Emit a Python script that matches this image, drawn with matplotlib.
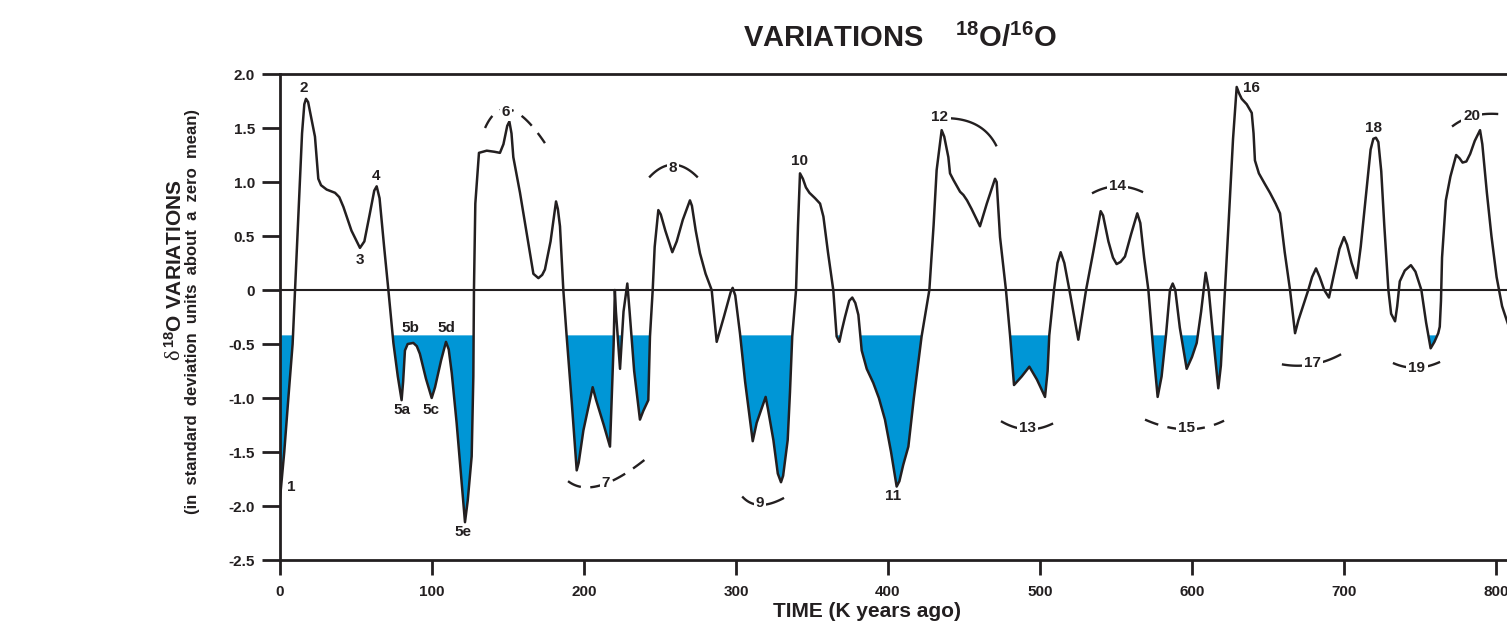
import numpy as np
import matplotlib
matplotlib.use("Agg")
import matplotlib.pyplot as plt

plt.rcParams['font.family'] = ['Liberation Sans', 'DejaVu Sans']
plt.rcParams['font.weight'] = 'bold'
plt.rcParams['mathtext.fontset'] = 'custom'
plt.rcParams['mathtext.rm'] = 'Liberation Sans:bold'
plt.rcParams['mathtext.it'] = 'Liberation Sans:bold'
plt.rcParams['mathtext.bf'] = 'Liberation Sans:bold'
plt.rcParams['mathtext.default'] = 'rm'

# ---------------- data ----------------
age = [0, 2.8, 5.5, 8.3, 9.9, 12.5, 14.5, 16.0, 17.1, 18.5, 20.5, 23, 24.5, 25.2, 27,
       30.7, 36.2, 39, 41.7, 47, 52.6, 55.5, 59, 62, 63.6, 65.5, 68.5, 71.3, 74.6,
       77.5, 80, 81.0, 82.2, 84, 87.7, 90, 92, 96, 99.8, 102, 106, 109.2, 111, 113,
       116.2, 119, 121.7, 123.5, 126.1, 127.2, 127.6, 128.5, 130.9, 136, 141, 144.7,
       147, 149.5, 150.9, 152.3, 153.5, 157.9, 162, 166.7, 170, 172.5, 174.3, 178,
       181.6, 182.8, 184.2, 186.4, 188.6, 192, 195.2, 196.5, 199.6, 205.7, 208, 213,
       217.1, 219.5, 220.3, 221, 223.7, 226, 228.5, 230, 233, 236.8, 239, 242.3,
       243.4, 245.2, 246.5, 248.9, 250.5, 253.5, 258.1, 261, 265, 269.7, 271, 273.5,
       276.3, 280, 284, 287.3, 292, 296.5, 297.8, 299.5, 302.6, 306, 311, 313.6,
       319.5, 321, 324.6, 327.5, 329.6, 331, 334, 335.5, 337, 339.5, 340.8, 342.1,
       344, 346, 348.3, 352, 355.3, 357.5, 360.5, 364, 366.2, 368, 369.5, 371.7,
       374.5, 376.5, 378.5, 380.5, 382.7, 386, 390.3, 394, 398, 402, 405.7, 407.5,
       410, 413.4, 417, 422.1, 427.2, 430, 432, 435.3, 437, 439.7, 440.8, 443,
       447.4, 449.6, 452, 455, 460.5, 465, 470.4, 471.5, 473.7, 477.6, 480.3, 482.9,
       488, 493, 498, 503.3, 505, 506.1, 509.2, 511.5, 513.6, 516, 520, 525.2,
       527.5, 530.3, 535, 539.9, 541.5, 545, 548, 550.4, 553, 555.9, 560, 564, 566,
       568.5, 571.3, 574.5, 577.4, 580, 583, 585.5, 587.3, 589, 592, 596.5, 600,
       603.1, 606, 609, 611, 614, 617.3, 619, 621.7, 624, 627, 629.4, 631, 632.7,
       636, 639.3, 640.5, 641.4, 644, 648, 651.3, 655, 657.9, 661, 664.5, 667.8,
       670, 673, 676.5, 679, 681.6, 684, 687, 690.1, 693, 697, 700, 702, 705, 708.3,
       711, 715, 717.5, 719.3, 721, 722.6, 724.5, 726.5, 729.2, 731, 733.6, 735,
       736.7, 740, 744, 747, 750.9, 754, 757, 759.5, 762, 763, 763.8, 764.5, 767,
       770, 773.8, 776, 778, 780.5, 783, 786, 789.5, 791, 794, 797, 800.4, 804, 808]
d18o = [-1.93, -1.50, -1.0, -0.50, 0.0, 0.8, 1.45, 1.72, 1.77, 1.74, 1.60, 1.42, 1.15,
        1.03, 0.97, 0.93, 0.90, 0.86, 0.77, 0.55, 0.39, 0.45, 0.70, 0.92, 0.96, 0.85,
        0.40, 0.0, -0.49, -0.80, -1.02, -0.85, -0.56, -0.50, -0.49, -0.52, -0.59,
        -0.82, -1.0, -0.90, -0.65, -0.48, -0.55, -0.77, -1.23, -1.70, -2.15, -1.95,
        -1.54, -0.8, 0.0, 0.8, 1.27, 1.29, 1.28, 1.27, 1.35, 1.52, 1.56, 1.45, 1.23,
        0.90, 0.55, 0.15, 0.11, 0.14, 0.19, 0.45, 0.82, 0.75, 0.59, 0.0, -0.43,
        -1.05, -1.67, -1.60, -1.30, -0.90, -1.02, -1.25, -1.45, -0.5, 0.0, -0.2,
        -0.73, -0.2, 0.06, -0.2, -0.75, -1.2, -1.12, -1.02, -0.43, 0.0, 0.4, 0.74,
        0.70, 0.55, 0.35, 0.45, 0.65, 0.83, 0.78, 0.55, 0.34, 0.15, 0.0, -0.48,
        -0.25, -0.02, 0.02, -0.05, -0.40, -0.85, -1.40, -1.23, -0.99, -1.10, -1.39,
        -1.70, -1.78, -1.72, -1.39, -0.95, -0.43, 0.0, 0.6, 1.08, 1.03, 0.95, 0.90,
        0.85, 0.80, 0.68, 0.35, 0.0, -0.43, -0.48, -0.38, -0.25, -0.10, -0.07,
        -0.12, -0.23, -0.56, -0.73, -0.86, -1.0, -1.2, -1.50, -1.82, -1.77, -1.62,
        -1.45, -1.0, -0.43, 0.0, 0.6, 1.11, 1.48, 1.42, 1.23, 1.08, 1.02, 0.91,
        0.88, 0.83, 0.75, 0.59, 0.80, 1.03, 1.0, 0.49, 0.0, -0.42, -0.88, -0.80,
        -0.71, -0.83, -0.99, -0.75, -0.42, 0.0, 0.25, 0.35, 0.25, -0.05, -0.46,
        -0.25, 0.0, 0.35, 0.73, 0.69, 0.45, 0.30, 0.24, 0.26, 0.31, 0.52, 0.71,
        0.62, 0.30, 0.0, -0.55, -0.99, -0.80, -0.40, 0.0, 0.06, 0.0, -0.35, -0.73,
        -0.62, -0.49, -0.20, 0.16, 0.0, -0.45, -0.91, -0.70, 0.0, 0.6, 1.4, 1.88,
        1.82, 1.77, 1.72, 1.64, 1.45, 1.20, 1.08, 0.98, 0.90, 0.80, 0.71, 0.35, 0.0,
        -0.40, -0.28, -0.15, 0.0, 0.12, 0.20, 0.12, 0.0, -0.07, 0.12, 0.38, 0.49,
        0.42, 0.25, 0.11, 0.40, 0.95, 1.30, 1.40, 1.41, 1.37, 1.10, 0.60, 0.0,
        -0.22, -0.29, -0.15, 0.08, 0.18, 0.23, 0.17, 0.0, -0.30, -0.54, -0.48,
        -0.40, -0.34, -0.1, 0.3, 0.83, 1.05, 1.25, 1.22, 1.18, 1.19, 1.26, 1.38,
        1.48, 1.35, 0.90, 0.50, 0.12, -0.15, -0.32]
glacial_threshold = -0.42

x_ticks = [0, 100, 200, 300, 400, 500, 600, 700, 800]
y_ticks = [2.0, 1.5, 1.0, 0.5, 0.0, -0.5, -1.0, -1.5, -2.0, -2.5]
y_tick_labels = ['2.0', '1.5', '1.0', '0.5', '0', '-0.5', '-1.0', '-1.5', '-2.0', '-2.5']

# stage labels: (text, age, value)
stage_labels = [('1', 7.2, -1.82), ('2', 15.8, 1.87), ('3', 52.6, 0.28), ('4', 63.2, 1.06),
                ('5a', 80.1, -1.11), ('5b', 85.5, -0.35), ('5c', 99.1, -1.11),
                ('5d', 109.2, -0.35), ('5e', 120.4, -2.24), ('10', 341.6, 1.19),
                ('11', 403.5, -1.91), ('16', 639.3, 1.87), ('18', 719.3, 1.50)]
# arc-bracketed labels: (text, label position, arc left, arc middle, arc right, dashed)
arc_labels = [
    ('6', (148.7, 1.65), (134.9, 1.50), (151.3, 1.67), (174.3, 1.36), True),
    ('7', (214.5, -1.79), (189.5, -1.77), (210.5, -1.81), (240.1, -1.57), True),
    ('8', (258.6, 1.13), (243.4, 1.05), (258.6, 1.16), (274.3, 1.05), False),
    ('9', (315.8, -1.97), (304.6, -1.92), (315.8, -1.99), (330.9, -1.93), False),
    ('12', (434.2, 1.60), (440.8, 1.59), (459.2, 1.52), (471.1, 1.34), False),
    ('13', (491.7, -1.28), (475.0, -1.22), (491.4, -1.29), (507.9, -1.24), False),
    ('14', (550.8, 0.96), (534.9, 0.90), (550.7, 0.96), (567.1, 0.91), False),
    ('15', (596.3, -1.28), (569.1, -1.20), (596.1, -1.29), (621.1, -1.21), True),
    ('17', (679.2, -0.68), (659.9, -0.69), (678.9, -0.69), (697.4, -0.60), False),
    ('19', (748.0, -0.72), (732.9, -0.68), (747.4, -0.72), (762.5, -0.67), False),
    ('20', (784.0, 1.61), (771.7, 1.52), (784.9, 1.61), (800.7, 1.63), False),
]

# ---------------- figure ----------------
W, H = 1507, 623
fig = plt.figure(figsize=(W / 100, H / 100), dpi=100)
ax = fig.add_axes([280 / W, 63 / H, 1261.6 / W, 486 / H])
ax.set_xlim(0, 830)
ax.set_ylim(-2.5, 2.0)

ink = '#231f20'
blue = '#0096d6'

a = np.array(age)
v = np.array(d18o)
ax.fill_between(a, v, glacial_threshold, where=v < glacial_threshold,
                interpolate=True, color=blue, linewidth=0, zorder=2)
ax.axhline(0, color=ink, lw=1.5, zorder=3)
ax.plot(a, v, color=ink, lw=1.8, zorder=4, solid_joinstyle='round')

for s in ['left', 'bottom', 'top']:
    ax.spines[s].set_linewidth(2.0)
    ax.spines[s].set_color(ink)
ax.spines['right'].set_visible(False)

ax.set_xticks(x_ticks)
ax.set_xticklabels([str(t) for t in x_ticks])
ax.set_yticks(y_ticks)
ax.set_yticklabels(y_tick_labels)
ax.tick_params(axis='y', direction='out', length=13, width=2.0, color=ink,
               labelsize=11, pad=5, labelcolor=ink)
ax.tick_params(axis='x', direction='out', length=11, width=2.0, color=ink,
               labelsize=11, pad=7, labelcolor=ink)
for lab in ax.get_xticklabels() + ax.get_yticklabels():
    lab.set_fontweight('bold')

for txt, x, y in stage_labels:
    ax.text(x, y, txt, fontsize=11, fontweight='bold', color=ink,
            ha='center', va='center', zorder=6)

t = np.linspace(0, 1, 60)
for txt, (lx, ly), L, M, R, dashed in arc_labels:
    L, M, R = np.array(L), np.array(M), np.array(R)
    C = 2 * M - (L + R) / 2
    pts = ((1 - t)[:, None] ** 2) * L + (2 * (1 - t) * t)[:, None] * C + (t[:, None] ** 2) * R
    ls = (0, (6, 4)) if dashed else '-'
    ax.plot(pts[:, 0], pts[:, 1], color=ink, lw=1.7, ls=ls, zorder=5)
    ax.text(lx, ly, txt, fontsize=11, fontweight='bold', color=ink,
            ha='center', va='center', zorder=6,
            bbox=dict(facecolor='white', edgecolor='none', pad=1.5))

# title
fig.text(900 / W, 1 - 47 / H, r'VARIATIONS    $^{18}$O/$^{16}$O', fontsize=21,
         fontweight='bold', color=ink, ha='center', va='baseline')
# x label (near the bottom edge, as in the original)
fig.text(867 / W, 1 - 617 / H, 'TIME (K years ago)', fontsize=15,
         fontweight='bold', color=ink, ha='center', va='baseline')
# y label, two lines
yl1 = fig.text(175 / W, 1 - 264 / H, r'$^{18}$O VARIATIONS', fontsize=15,
               fontweight='bold', color=ink, ha='center', va='center', rotation=90)
fig.canvas.draw()
bb = yl1.get_window_extent()
fig.text(175 / W, (bb.y0 - 1) / H, 'δ', fontsize=16, family='Liberation Serif',
         fontweight='normal', color=ink, ha='center', va='top', rotation=90)
fig.text(193 / W, 1 - 311 / H, '(in  standard  deviation  units  about  a  zero  mean)',
         fontsize=12, fontweight='bold', color=ink, ha='center', va='center', rotation=90)

fig.savefig('out.png', dpi=100)
